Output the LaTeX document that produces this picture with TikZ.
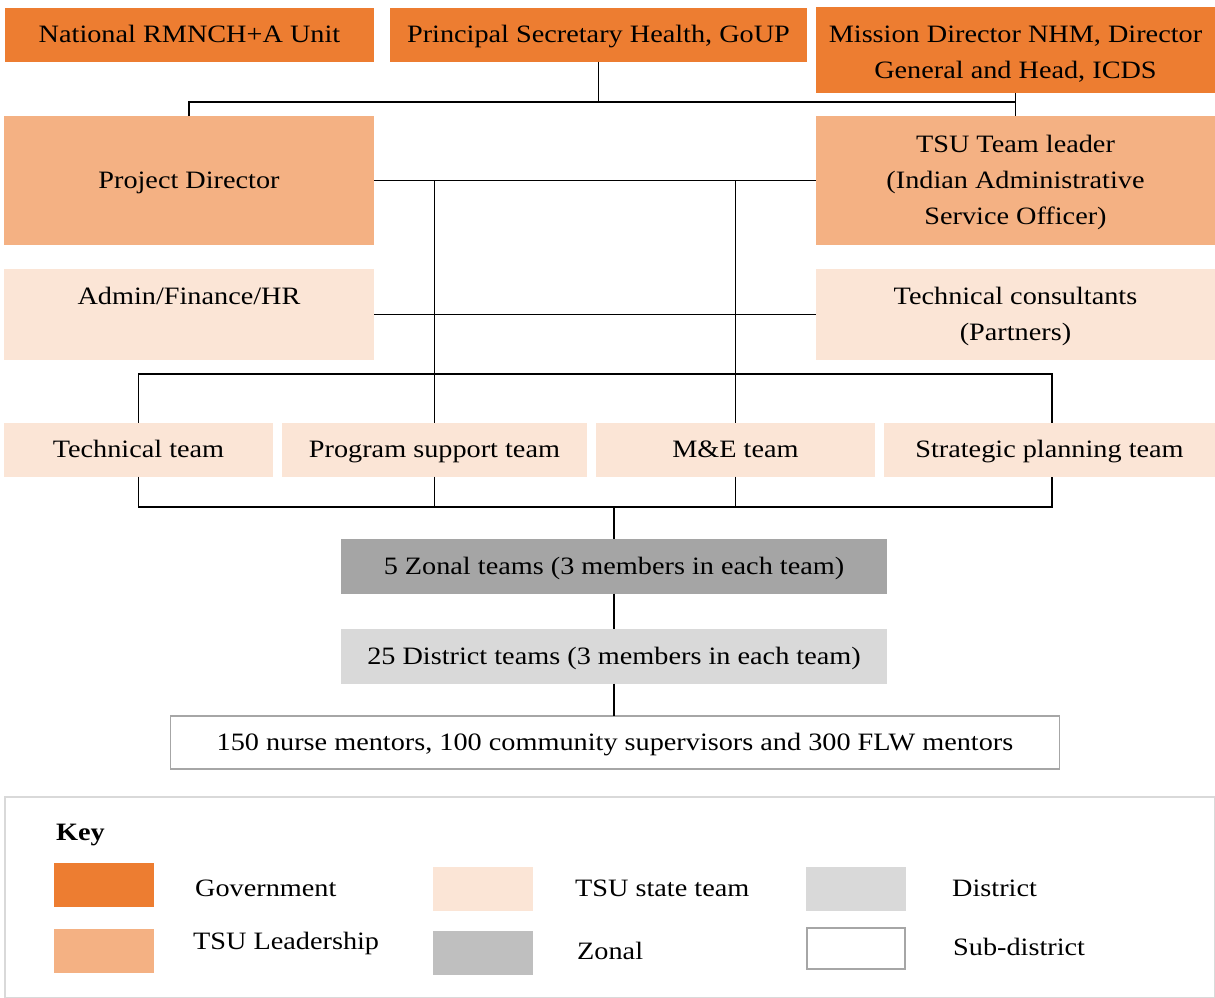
\documentclass[tikz,border=0pt]{standalone}
\usepackage{fontspec}
\setmainfont[FakeStretch=1.13]{Liberation Serif}
\newcommand\mystrut{\rule[-6pt]{0pt}{28.5pt}}
\definecolor{gov}{HTML}{ED7D31}
\definecolor{lead}{HTML}{F4B183}
\definecolor{state}{HTML}{FBE5D6}
\definecolor{zonal}{HTML}{A5A5A5}
\definecolor{zonalkey}{HTML}{BFBFBF}
\definecolor{district}{HTML}{D9D9D9}
\definecolor{subd}{HTML}{A6A6A6}
\definecolor{keyframe}{HTML}{D9D9D9}
\tikzset{
  box/.style={inner sep=0pt, outer sep=0pt, align=center, font=\fontsize{25}{36}\selectfont},
  govbox/.style={box, fill=gov},
  leadbox/.style={box, fill=lead},
  statebox/.style={box, fill=state},
  zonebox/.style={box, fill=zonal},
  distbox/.style={box, fill=district},
  subbox/.style={box, fill=white, draw=subd, line width=1.5pt},
  conn/.style={line width=1.8pt, black},
  swatch/.style={inner sep=0pt, outer sep=0pt, minimum width=100pt, minimum height=44pt},
  keytext/.style={anchor=west, inner sep=0pt, text height=22.5pt, text depth=6pt, font=\fontsize{25}{30}\selectfont},
}
\begin{document}
\begin{tikzpicture}[x=1pt, y=-1pt]
\useasboundingbox (0,0) rectangle (1215,997);
% top row
\node[govbox, minimum width=369, minimum height=54] (nat) at (189.5,34.5) {\mystrut National RMNCH+A Unit};
\node[govbox, minimum width=417, minimum height=54] (psh) at (598.5,34.5) {\mystrut Principal Secretary Health, GoUP};
\node[govbox, minimum width=399, minimum height=86] (md) at (1015.5,50) {\rule[-6pt]{0pt}{33.5pt}Mission Director NHM, Director\\\mystrut General and Head, ICDS};
% leadership
\node[leadbox, minimum width=370, minimum height=129] (pd) at (189,180.5) {\mystrut Project Director};
\node[leadbox, minimum width=399, minimum height=129] (tl) at (1015.5,180.5) {\mystrut TSU Team leader\\\mystrut(Indian Administrative\\\mystrut Service Officer)};
% state support
\node[statebox, minimum width=370, minimum height=91] (adm) at (189,314.5) {\mystrut Admin/Finance/HR\\\mystrut};
\node[statebox, minimum width=399, minimum height=91] (tc) at (1015.5,314.5) {\mystrut Technical consultants\\\mystrut(Partners)};
% teams
\node[statebox, minimum width=269, minimum height=54] (tt) at (138.5,449.5) {\mystrut Technical team};
\node[statebox, minimum width=305, minimum height=54] (pst) at (434.5,449.5) {\mystrut Program support team};
\node[statebox, minimum width=279, minimum height=54] (me) at (735.5,449.5) {\mystrut M\&E team};
\node[statebox, minimum width=331, minimum height=54] (sp) at (1049.5,449.5) {\mystrut Strategic planning team};
% lower levels
\node[zonebox, minimum width=546, minimum height=55] (zn) at (614,566) {\mystrut 5 Zonal teams (3 members in each team)};
\node[distbox, minimum width=546, minimum height=55] (dt) at (614,656) {\mystrut 25 District teams (3 members in each team)};
\node[subbox, minimum width=889, minimum height=53] (sub) at (615,742.5) {\mystrut 150 nurse mentors, 100 community supervisors and 300 FLW mentors};
% bus coordinates
\coordinate (busA) at (0,102);
\coordinate (busB) at (0,374);
\coordinate (busC) at (0,507);
% connectors
\draw[conn] (psh.south) -- (psh.south |- busA);
\draw[conn] (pd.north) -- (pd.north |- busA) -- (tl.north |- busA);
\draw[conn] (md.south) -- (tl.north);
\draw[conn] (pd.east) -- (pd.east -| tl.west);
\draw[conn] (pst.north) -- (pst.north |- pd.east);
\draw[conn] (me.north) -- (me.north |- pd.east);
\draw[conn] (adm.east) -- (adm.east -| tc.west);
\draw[conn] (tt.north) -- (tt.north |- busB) -- ([xshift=2.5pt]sp.north |- busB) -- ([xshift=2.5pt]sp.north);
\draw[conn] (tt.south) -- (tt.south |- busC) -- ([xshift=2.5pt]sp.south |- busC) -- ([xshift=2.5pt]sp.south);
\draw[conn] (pst.south) -- (pst.south |- busC);
\draw[conn] (me.south) -- (me.south |- busC);
\draw[conn, line width=2.8pt] (zn.north |- busC) -- (zn.north);
\draw[conn] (zn.south) -- (dt.north);
\draw[conn] (dt.south) -- (dt.south |- sub.north);
% key
\node[draw=keyframe, line width=2pt, inner sep=0pt, outer sep=0pt, minimum width=1210, minimum height=201] (key) at (610,897) {};
\node[keytext, font=\fontsize{25}{30}\selectfont\bfseries] (keyt) at (56,832) {Key};
\node[swatch, fill=gov] (sw1) at (104,885) {};
\node[swatch, fill=lead] (sw2) at (104,950.5) {};
\node[swatch, fill=state] (sw3) at (483,889) {};
\node[swatch, fill=zonalkey] (sw4) at (483,953) {};
\node[swatch, fill=district] (sw5) at (856,889) {};
\node[swatch, fill=white, draw=subd, line width=1.5pt, minimum width=98, minimum height=41] (sw6) at (856,948.5) {};
\node[keytext] (k1) at (195,888) {Government};
\node[keytext] (k2) at (193,941) {TSU Leadership};
\node[keytext] (k3) at (575,888) {TSU state team};
\node[keytext] (k4) at (577,951) {Zonal};
\node[keytext] (k5) at (952,888) {District};
\node[keytext] (k6) at (953,947) {Sub-district};
\end{tikzpicture}
\end{document}
